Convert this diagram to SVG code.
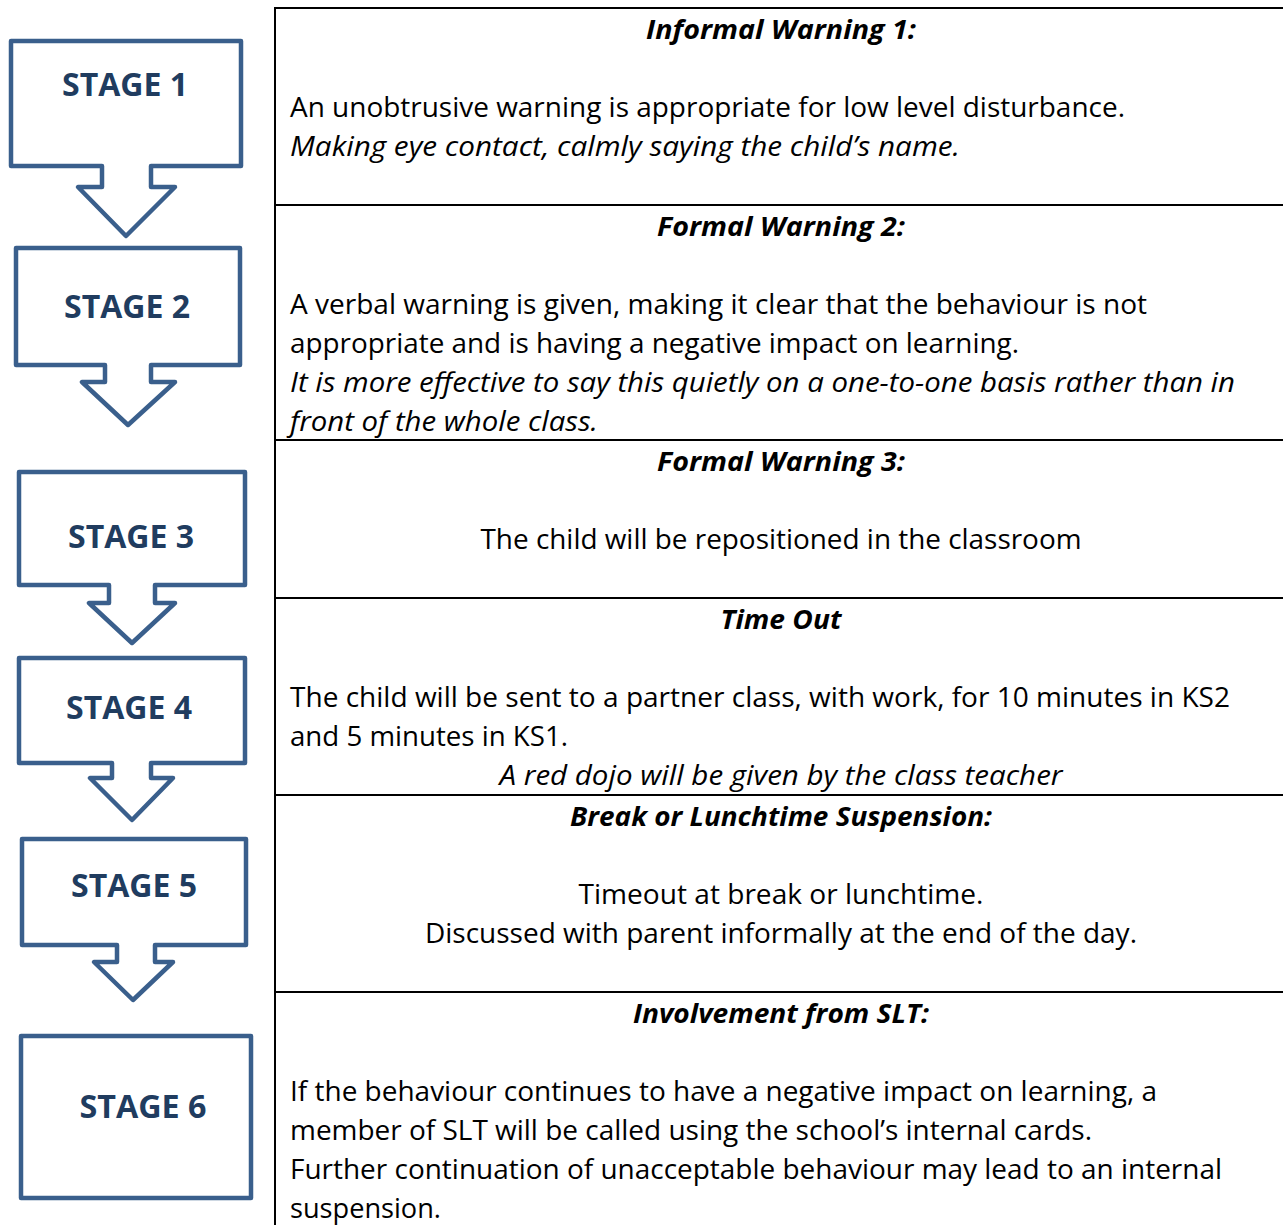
<svg xmlns="http://www.w3.org/2000/svg" width="1283" height="1225" viewBox="0 0 1283 1225">
<style>
.stage{fill:#fff;stroke:#3a5f8c;stroke-width:4.5;stroke-linejoin:round}
.st{font-family:"Open Sans","Liberation Sans",sans-serif;font-weight:bold;font-size:32px;fill:#203c5f;text-anchor:middle}
.grid{stroke:#000;stroke-width:2;fill:none}
.hd{font-family:"Open Sans","Liberation Sans",sans-serif;font-weight:bold;font-style:italic;font-size:27px;fill:#000;text-anchor:middle}
.tx{font-family:"Open Sans","Liberation Sans",sans-serif;font-size:27px;fill:#000}
.it{font-style:italic}
.c{text-anchor:middle}
</style>
<rect width="1283" height="1225" fill="#fff"/>
<g id="table-grid" class="grid">
<line x1="275" y1="7" x2="275" y2="1225"/>
<line x1="274" y1="8" x2="1283" y2="8"/>
<line x1="274" y1="205" x2="1283" y2="205"/>
<line x1="274" y1="440" x2="1283" y2="440"/>
<line x1="274" y1="598" x2="1283" y2="598"/>
<line x1="274" y1="795" x2="1283" y2="795"/>
<line x1="274" y1="992" x2="1283" y2="992"/>
</g>
<g id="stage1">
<path class="stage" d="M11,41 H241 V166 H151 V187 H175 L126,236 L78,187 H102 V166 H11 Z"/>
<text class="st" x="125" y="96" textLength="126" lengthAdjust="spacingAndGlyphs">STAGE 1</text>
</g>
<g id="stage2">
<path class="stage" d="M16,248 H240 V365 H151 V382 H175 L128,425 L82,382 H105 V365 H16 Z"/>
<text class="st" x="127" y="318" textLength="126" lengthAdjust="spacingAndGlyphs">STAGE 2</text>
</g>
<g id="stage3">
<path class="stage" d="M19,472 H245 V585 H155 V603 H175 L132,643 L89,603 H109 V585 H19 Z"/>
<text class="st" x="131" y="548" textLength="126" lengthAdjust="spacingAndGlyphs">STAGE 3</text>
</g>
<g id="stage4">
<path class="stage" d="M19,658 H245 V763 H151 V778 H173 L132,820 L90,778 H112 V763 H19 Z"/>
<text class="st" x="129" y="719" textLength="126" lengthAdjust="spacingAndGlyphs">STAGE 4</text>
</g>
<g id="stage5">
<path class="stage" d="M22,839 H246 V945 H155 V962 H173 L133,1000 L94,962 H117 V945 H22 Z"/>
<text class="st" x="134" y="897" textLength="126" lengthAdjust="spacingAndGlyphs">STAGE 5</text>
</g>
<g id="stage6">
<rect class="stage" x="21" y="1036" width="230" height="162"/>
<text class="st" x="143" y="1118" textLength="127" lengthAdjust="spacingAndGlyphs">STAGE 6</text>
</g>
<g id="connectors"></g>
<g id="row1">
<text class="hd" x="781" y="39" textLength="270" lengthAdjust="spacingAndGlyphs">Informal Warning 1:</text>
<text class="tx" x="290" y="117" textLength="835" lengthAdjust="spacingAndGlyphs">An unobtrusive warning is appropriate for low level disturbance.</text>
<text class="tx it" x="290" y="156" textLength="670" lengthAdjust="spacingAndGlyphs">Making eye contact, calmly saying the child’s name.</text>
</g>
<g id="row2">
<text class="hd" x="781" y="236" textLength="248" lengthAdjust="spacingAndGlyphs">Formal Warning 2:</text>
<text class="tx" x="290" y="314" textLength="857" lengthAdjust="spacingAndGlyphs">A verbal warning is given, making it clear that the behaviour is not</text>
<text class="tx" x="290" y="353" textLength="729" lengthAdjust="spacingAndGlyphs">appropriate and is having a negative impact on learning.</text>
<text class="tx it" x="290" y="392" textLength="945" lengthAdjust="spacingAndGlyphs">It is more effective to say this quietly on a one-to-one basis rather than in</text>
<text class="tx it" x="290" y="431" textLength="308" lengthAdjust="spacingAndGlyphs">front of the whole class.</text>
</g>
<g id="row3">
<text class="hd" x="781" y="471" textLength="248" lengthAdjust="spacingAndGlyphs">Formal Warning 3:</text>
<text class="tx c" x="781" y="549" textLength="601" lengthAdjust="spacingAndGlyphs">The child will be repositioned in the classroom</text>
</g>
<g id="row4">
<text class="hd" x="781" y="629" textLength="121" lengthAdjust="spacingAndGlyphs">Time Out</text>
<text class="tx" x="290" y="707" textLength="940" lengthAdjust="spacingAndGlyphs">The child will be sent to a partner class, with work, for 10 minutes in KS2</text>
<text class="tx" x="290" y="746" textLength="278" lengthAdjust="spacingAndGlyphs">and 5 minutes in KS1.</text>
<text class="tx it c" x="781" y="785" textLength="563" lengthAdjust="spacingAndGlyphs">A red dojo will be given by the class teacher</text>
</g>
<g id="row5">
<text class="hd" x="781" y="826" textLength="422" lengthAdjust="spacingAndGlyphs">Break or Lunchtime Suspension:</text>
<text class="tx c" x="781" y="904" textLength="405" lengthAdjust="spacingAndGlyphs">Timeout at break or lunchtime.</text>
<text class="tx c" x="781" y="943" textLength="712" lengthAdjust="spacingAndGlyphs">Discussed with parent informally at the end of the day.</text>
</g>
<g id="row6">
<text class="hd" x="781" y="1023" textLength="296" lengthAdjust="spacingAndGlyphs">Involvement from SLT:</text>
<text class="tx" x="290" y="1101" textLength="867" lengthAdjust="spacingAndGlyphs">If the behaviour continues to have a negative impact on learning, a</text>
<text class="tx" x="290" y="1140" textLength="802" lengthAdjust="spacingAndGlyphs">member of SLT will be called using the school’s internal cards.</text>
<text class="tx" x="290" y="1179" textLength="932" lengthAdjust="spacingAndGlyphs">Further continuation of unacceptable behaviour may lead to an internal</text>
<text class="tx" x="290" y="1218" textLength="151" lengthAdjust="spacingAndGlyphs">suspension.</text>
</g>
</svg>
